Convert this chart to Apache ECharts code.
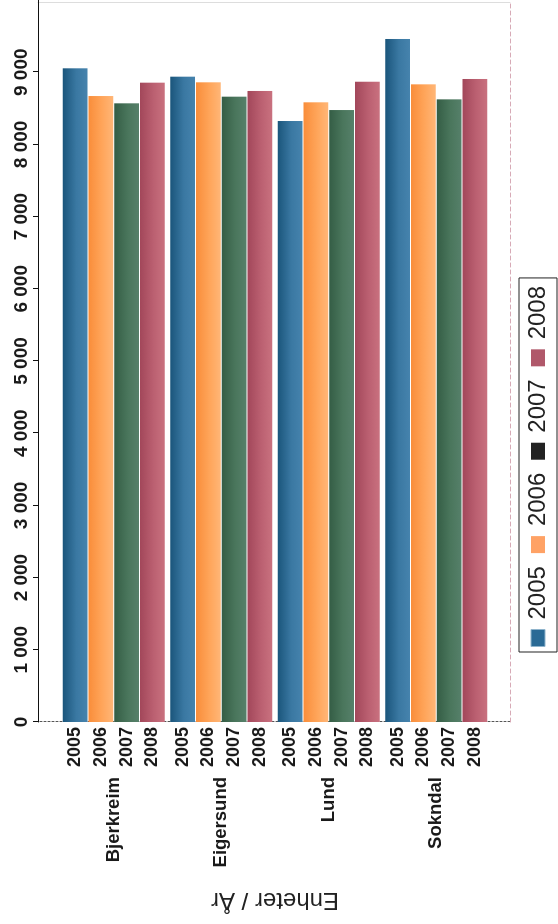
<!DOCTYPE html>
<html>
<head>
<meta charset="utf-8">
<script src="https://cdn.jsdelivr.net/npm/echarts@6/dist/echarts.min.js"></script>
<style>
html,body{margin:0;padding:0;background:#fff;overflow:hidden;width:558px;height:924px;}
#wrap{position:absolute;left:0;top:0;width:924px;height:558px;transform-origin:0 0;transform:translateY(924px) rotate(-90deg);background:#fff;}
</style>
</head>
<body>
<div id="wrap"></div>
<script>
const categories = ['Bjerkreim', 'Eigersund', 'Lund', 'Sokndal'];
const years = ['2005', '2006', '2007', '2008'];
const values2005 = [9054, 8938, 8324, 9460];
const values2006 = [8670, 8860, 8583, 8832];
const values2007 = [8569, 8661, 8476, 8624];
const values2008 = [8855, 8740, 8868, 8906];
const valueTicks = { min: 0, max: 10000, interval: 1000 };
const axisTitle = 'Enheter / År';

const seriesValues = [values2005, values2006, values2007, values2008];
const barColors = [
  ['#1a557b', '#3a78a2', '#4683ad'],
  ['#f98d3a', '#ffa55a', '#ffb677'],
  ['#345d45', '#4a765c', '#56806a'],
  ['#a2475a', '#bb6071', '#c9717f']
];
const legendColors = ['#2a6a95', '#ffa265', '#222222', '#b0586a'];

const labelFont = '"Liberation Sans", Arial, sans-serif';
const regular = '"Liberation Sans", Arial, sans-serif';

function fmt(v) { return String(v).replace(/\B(?=(\d{3})+(?!\d))/g, ' '); }

const chart = echarts.init(document.getElementById('wrap'), null, { renderer: 'canvas' });
chart.setOption({
  animation: false,
  backgroundColor: '#fff',
  grid: [
    { left: 202, right: 0, top: 60, bottom: 68 },
    { left: 202, right: 3, top: 38, bottom: 48, show: false }
  ],
  legend: {
    left: 272, top: 519,
    orient: 'horizontal',
    itemWidth: 17, itemHeight: 14, itemGap: 13,
    padding: [6, 8, 6, 5],
    borderColor: '#222', borderWidth: 1,
    textStyle: { fontFamily: regular, fontSize: 24, color: '#222', lineHeight: 26, padding: [0, 0, 0, 5] },
    data: years.map((y, i) => ({ name: y, icon: 'rect', itemStyle: { color: legendColors[i], borderColor: i === 0 ? '#8fb4cc' : undefined, borderWidth: i === 0 ? 1 : 0 } }))
  },
  xAxis: [
    {
      gridIndex: 0, type: 'value', position: 'top', offset: 22,
      min: valueTicks.min, max: valueTicks.max, interval: valueTicks.interval,
      axisLine: { show: true, lineStyle: { color: '#111', width: 1 } },
      axisTick: { show: true, length: 5, lineStyle: { color: '#111' } },
      axisLabel: { show: true, showMaxLabel: false, margin: 7, formatter: fmt, fontFamily: labelFont, fontWeight: 'bold', fontSize: 19, color: '#1a1a1a' },
      splitLine: { show: false }
    },
    {
      gridIndex: 1, type: 'value', position: 'bottom', min: 0, max: 1,
      axisLine: { show: true, lineStyle: { color: '#d7aab6', type: [4, 3], width: 1 } },
      axisTick: { show: false }, axisLabel: { show: false }, splitLine: { show: false }
    }
  ],
  yAxis: [
    {
      gridIndex: 0, type: 'category', data: categories, inverse: true,
      axisLine: { show: false }, axisTick: { show: false },
      axisLabel: { margin: 55, fontFamily: labelFont, fontWeight: 'bold', fontSize: 18.5, color: '#1a1a1a' },
      name: axisTitle, nameLocation: 'middle', nameRotate: 90, nameGap: 166,
      nameTextStyle: { fontFamily: regular, fontSize: 24, color: '#222' }
    },
    {
      gridIndex: 1, type: 'value', position: 'left', min: 0, max: 1,
      axisLine: { show: true, lineStyle: { color: '#555', type: [2, 2], width: 1 } },
      axisTick: { show: false }, axisLabel: { show: false }, splitLine: { show: false }
    },
    {
      gridIndex: 1, type: 'value', position: 'right', min: 0, max: 1,
      axisLine: { show: true, lineStyle: { color: '#dddddd', width: 1 } },
      axisTick: { show: false }, axisLabel: { show: false }, splitLine: { show: false }
    }
  ],
  series: years.map((y, i) => ({
    name: y,
    type: 'bar',
    xAxisIndex: 0, yAxisIndex: 0,
    data: seriesValues[i],
    barGap: '4%',
    barCategoryGap: '5%',
    itemStyle: {
      color: new echarts.graphic.LinearGradient(0, 0, 0, 1, [
        { offset: 0, color: barColors[i][0] },
        { offset: 0.55, color: barColors[i][1] },
        { offset: 1, color: barColors[i][2] }
      ])
    },
    label: {
      show: true, position: 'left', distance: 5,
      formatter: p => p.seriesName,
      fontFamily: labelFont, fontWeight: 'bold', fontSize: 18, color: '#1a1a1a'
    }
  }))
});
</script>
</body>
</html>
